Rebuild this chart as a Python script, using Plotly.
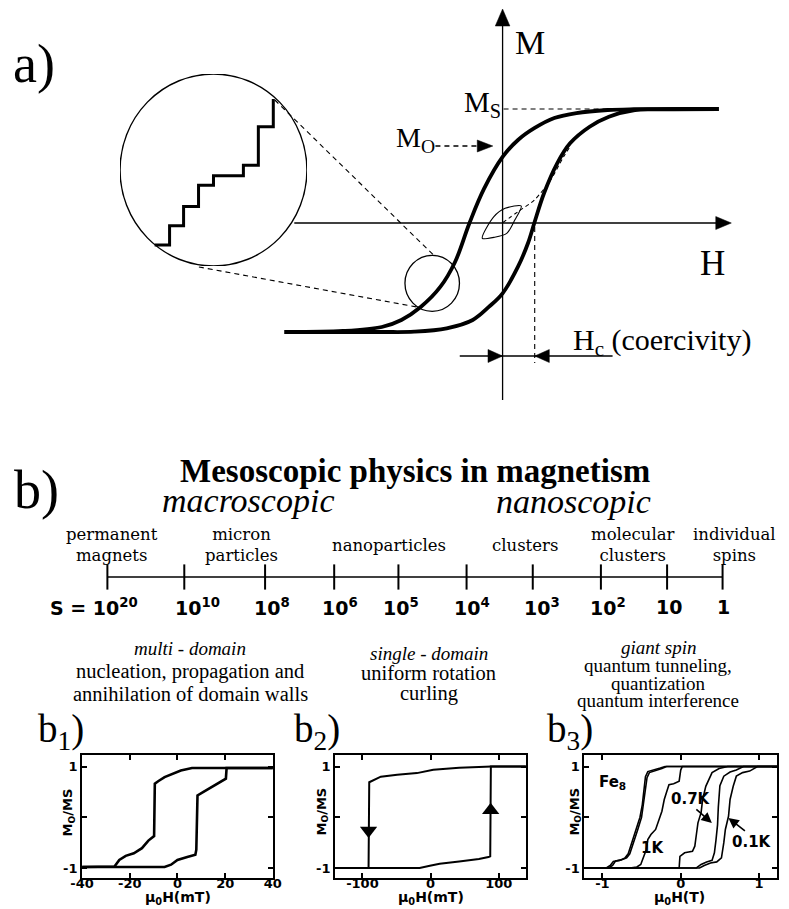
import plotly.graph_objects as go

FIG_W, FIG_H = 789, 909


def P(x, y):
    """page pixel position -> paper coordinates"""
    return x / FIG_W, 1 - y / FIG_H


def dom_x(left, right):
    return [left / FIG_W, right / FIG_W]


def dom_y(top, bottom):
    return [1 - bottom / FIG_H, 1 - top / FIG_H]


# ---------------- a) schematic loop: H in units of Hc, M in units of Ms ----------------
major_down_H = [6.73, 4.09, 3.27, 2.30, 1.61, 1.0, 0.48, 0.0, -0.58, -1.03, -1.48, -1.94,
                -2.55, -3.15, -3.76, -4.97, -6.79]
major_down_M = [1.0, 0.998, 0.991, 0.964, 0.919, 0.830, 0.722, 0.570, 0.283, -0.022, -0.372,
                -0.596, -0.776, -0.892, -0.955, -0.991, -1.0]
major_up_H = [-6.79, -3.76, -2.75, -1.74, -0.93, -0.42, 0.0, 0.48, 0.79, 0.99, 1.29, 1.70,
              2.10, 2.71, 3.31, 4.12, 4.83, 6.73]
major_up_M = [-1.0, -1.0, -0.997, -0.967, -0.892, -0.773, -0.653, -0.414, -0.204, -0.02,
              0.244, 0.513, 0.692, 0.841, 0.931, 0.991, 0.997, 1.0]
virgin_H = [0.0, 0.48, 0.99, 1.49, 1.90, 2.10]
virgin_M = [-0.02, 0.079, 0.184, 0.363, 0.572, 0.662]
minor_H = [-0.63, -0.27, 0.08, 0.58, 0.38, 0.13, -0.27, -0.63]
minor_M = [-0.16, 0.034, 0.109, 0.13, 0.004, -0.115, -0.151, -0.16]

# Barkhausen jumps seen under the magnifier (arbitrary units)
step_x = [-0.63, -0.47, -0.32, -0.16, 0.0, 0.32, 0.48, 0.64]
step_y = [-0.78, -0.58, -0.38, -0.16, -0.06, 0.05, 0.45, 0.74]

# ---------------- b) size scale ----------------
size_classes = ["permanent<br>magnets", "micron<br>particles", "nanoparticles", "clusters",
                "molecular<br>clusters", "individual<br>spins"]
spin_labels = ["S = 10<sup>20</sup>", "10<sup>10</sup>", "10<sup>8</sup>", "10<sup>6</sup>",
               "10<sup>5</sup>", "10<sup>4</sup>", "10<sup>3</sup>", "10<sup>2</sup>", "10", "1"]
regime_titles = ["multi - domain", "single - domain", "giant spin"]
regime_lines = [["nucleation, propagation and", "annihilation of domain walls"],
                ["uniform rotation", "curling"],
                ["quantum tunneling,", "quantization", "quantum interference"]]

# b1) multi-domain particle, mu0H in mT
b1_down_H = [40.0, 6.1, 1.4, -1.4, -5.4, -8.1, -9.5, -9.8, -12.2, -14.9, -18.3, -21.7, -24.4, -26.4, -40.0]
b1_down_M = [0.97, 0.97, 0.92, 0.86, 0.79, 0.71, 0.66, -0.37, -0.46, -0.61, -0.71, -0.76, -0.84, -0.97, -0.98]
b1_up_H = [-40.0, -5.4, -2.7, 0.0, 4.1, 7.5, 7.9, 8.4, 10.9, 14.9, 19.7, 20.3, 20.6, 40.0]
b1_up_M = [-0.98, -0.98, -0.935, -0.84, -0.785, -0.74, -0.64, 0.43, 0.50, 0.61, 0.74, 0.76, 0.97, 0.97]

# b2) single-domain particle, mu0H in mT
b2_down_H = [140, 90, 42, 4, -20, -49, -73, -85, -90, -91, -140]
b2_down_M = [1.0, 1.0, 0.974, 0.935, 0.87, 0.84, 0.80, 0.73, 0.69, -1.0, -1.0]
b2_up_H = [-140, -16, -1, 13.4, 42, 71, 85, 87.6, 88.5, 140]
b2_up_M = [-1.0, -1.0, -0.955, -0.915, -0.87, -0.824, -0.785, -0.77, 1.0, 1.0]
b2_arrow_H = [-91, 88.2]
b2_arrow_M = [-0.26, 0.14]

# b3) Fe8 molecular clusters, mu0H in T
fe8_1K_down_H = [1.23, 0.02, 0.0, -0.02, -0.09, -0.15, -0.18, -0.21, -0.24, -0.28, -0.32, -0.38,
                 -0.42, -0.44, -0.49, -0.51, -0.56, -0.65, -1.23]
fe8_1K_down_M = [1.0, 1.0, 0.93, 0.71, 0.66, 0.64, 0.50, 0.35, 0.12, -0.05, -0.24, -0.34,
                 -0.44, -0.64, -0.84, -0.93, -0.98, -1.0, -1.0]
fe8_1K_up_H = [-1.23, -0.02, -0.01, 0.05, 0.15, 0.18, 0.20, 0.22, 0.26, 0.28, 0.32, 0.40, 0.49, 0.60, 1.23]
fe8_1K_up_M = [-1.0, -1.0, -0.77, -0.70, -0.67, -0.57, -0.34, -0.11, 0.09, 0.35, 0.61, 0.88, 0.96, 1.0, 1.0]
fe8_07K_down_H = [1.23, -0.18, -0.24, -0.32, -0.40, -0.43, -0.45, -0.47, -0.50, -0.55, -0.61,
                  -0.65, -0.69, -0.76, -0.83, -0.87, -0.92, -1.23]
fe8_07K_down_M = [1.0, 1.0, 0.96, 0.92, 0.88, 0.78, 0.55, 0.25, 0.0, -0.25, -0.55, -0.72,
                  -0.80, -0.84, -0.86, -0.95, -1.0, -1.0]
fe8_07K_up_H = [-1.23, 0.20, 0.26, 0.33, 0.40, 0.43, 0.45, 0.47, 0.48, 0.50, 0.55, 0.63, 0.71, 0.80, 1.23]
fe8_07K_up_M = [-1.0, -1.0, -0.93, -0.88, -0.85, -0.70, -0.45, -0.15, 0.20, 0.62, 0.81, 0.89, 0.93, 1.0, 1.0]
fe8_01K_down_H = [1.23, -0.20, -0.26, -0.34, -0.42, -0.45, -0.47, -0.49, -0.52, -0.57, -0.63,
                  -0.67, -0.71, -0.78, -0.86, -0.90, -0.95, -1.23]
fe8_01K_down_M = [1.0, 1.0, 0.97, 0.94, 0.90, 0.80, 0.55, 0.25, 0.0, -0.25, -0.55, -0.72,
                  -0.80, -0.85, -0.87, -0.95, -1.0, -1.0]
fe8_01K_up_H = [-1.23, 0.24, 0.30, 0.38, 0.46, 0.52, 0.55, 0.57, 0.61, 0.63, 0.67, 0.71, 0.79, 0.88, 0.98, 1.23]
fe8_01K_up_M = [-1.0, -1.0, -0.95, -0.90, -0.88, -0.80, -0.50, -0.24, 0.02, 0.35, 0.61, 0.81, 0.88, 0.91, 1.0, 1.0]

# ---------------- styling ----------------
SERIF = "Liberation Serif"
WSERIF = "DejaVu Serif"
SANS = "DejaVu Sans"
INK = "black"

fig = go.Figure()


def line_trace(x, y, xa, ya, width, shape="linear", dash="solid", smoothing=None):
    ln = dict(color=INK, width=width, shape=shape, dash=dash)
    if smoothing is not None:
        ln["smoothing"] = smoothing
    fig.add_trace(go.Scatter(x=x, y=y, mode="lines", line=ln, xaxis=xa, yaxis=ya,
                             hoverinfo="skip", showlegend=False))


# a) loop
line_trace(major_down_H, major_down_M, "x", "y", 3.8, "spline", smoothing=1.0)
line_trace(major_up_H, major_up_M, "x", "y", 3.8, "spline", smoothing=1.0)
line_trace(virgin_H, virgin_M, "x", "y", 1.1, "spline", dash="4px,3px", smoothing=0.8)
line_trace(minor_H, minor_M, "x", "y", 1.1, "spline", smoothing=0.8)
# magnifier content
line_trace(step_x, step_y, "x2", "y2", 3, "hv")

# b1 / b2 / b3 loops
line_trace(b1_down_H, b1_down_M, "x4", "y4", 2.6)
line_trace(b1_up_H, b1_up_M, "x4", "y4", 2.6)
line_trace(b2_down_H, b2_down_M, "x5", "y5", 2)
line_trace(b2_up_H, b2_up_M, "x5", "y5", 2)
fig.add_trace(go.Scatter(x=b2_arrow_H, y=b2_arrow_M, mode="markers", xaxis="x5", yaxis="y5",
                         marker=dict(symbol=["triangle-down", "triangle-up"], size=15, color=INK),
                         hoverinfo="skip", showlegend=False))
for hx, my in [(fe8_1K_down_H, fe8_1K_down_M), (fe8_1K_up_H, fe8_1K_up_M),
               (fe8_07K_down_H, fe8_07K_down_M), (fe8_07K_up_H, fe8_07K_up_M),
               (fe8_01K_down_H, fe8_01K_down_M), (fe8_01K_up_H, fe8_01K_up_M)]:
    line_trace(hx, my, "x6", "y6", 1.6)

# size scale line with tick marks
scale_tick_x = [98, 177, 260, 331, 397, 467, 535, 605, 673, 730]
fig.add_trace(go.Scatter(x=[scale_tick_x[0], scale_tick_x[-1]], y=[577, 577], mode="lines",
                         line=dict(color=INK, width=1.3), xaxis="x3", yaxis="y3",
                         hoverinfo="skip", showlegend=False))
fig.add_trace(go.Scatter(x=scale_tick_x, y=[577] * len(scale_tick_x), mode="markers",
                         marker=dict(symbol="line-ns", size=18, line=dict(color=INK, width=2)),
                         xaxis="x3", yaxis="y3", hoverinfo="skip", showlegend=False))

# ---------------- shapes (axes arrows, magnifier, guides) ----------------
shapes = []


def seg(x0, y0, x1, y1, w=1.3, dash="solid"):
    a, b = P(x0, y0)
    c, d = P(x1, y1)
    shapes.append(dict(type="line", xref="paper", yref="paper", x0=a, y0=b, x1=c, y1=d,
                       line=dict(color=INK, width=w, dash=dash)))


def tri(p1, p2, p3):
    pts = [P(*p) for p in (p1, p2, p3)]
    path = "M {} {} L {} {} L {} {} Z".format(pts[0][0], pts[0][1], pts[1][0], pts[1][1],
                                              pts[2][0], pts[2][1])
    shapes.append(dict(type="path", xref="paper", yref="paper", path=path,
                       fillcolor=INK, line=dict(color=INK, width=0.5)))


# M and H axes
seg(504, 22, 504, 400)
tri((504, 9), (496.5, 26), (511.5, 26))
seg(290, 223, 726, 223)
tri((739, 223), (723, 216.5), (723, 229.5))
# saturation guide and remanence pointer
seg(505, 109, 640, 109, 1.1, "5px,4px")
seg(435, 146, 480, 146, 1.3, "5px,4px")
tri((494, 146), (478, 140), (478, 152))
# coercive field marker
seg(537, 227, 537, 363, 1.1, "5px,4px")
seg(460, 356, 617, 356, 1.3)
tri((504, 356), (489, 349.5), (489, 362.5))
tri((537, 356), (552, 349.5), (552, 362.5))
# magnifier: small circle on the loop, cone lines, big circle
a, b = P(403.7, 255.3)
c, d = P(459.7, 311.3)
shapes.append(dict(type="circle", xref="paper", yref="paper", x0=a, y0=d, x1=c, y1=b,
                   line=dict(color=INK, width=1.3)))
seg(270, 100, 433, 255, 1.1, "5px,4px")
seg(192, 267, 416, 307, 1.1, "5px,4px")
shapes.append(dict(type="circle", xref="x2", yref="y2", x0=-1, y0=-1, x1=1, y1=1,
                   line=dict(color=INK, width=1.4)))

# ---------------- annotations ----------------
annotations = []


def note(text, x, y, size, family=SERIF, xanchor="center", yanchor="middle", weight="normal",
         style="normal", angle=0):
    a, b = P(x, y)
    annotations.append(dict(text=text, x=a, y=b, xref="paper", yref="paper", showarrow=False,
                            xanchor=xanchor, yanchor=yanchor, textangle=angle,
                            font=dict(family=family, size=size, color=INK, weight=weight,
                                      style=style)))


# panel a
note("a)", 23, 64, 54)
note("M", 532, 42, 34)
note("M<sub>S</sub>", 462, 104, 29, xanchor="left")
note("M<sub>O</sub>", 392, 139, 28, xanchor="left")
note("H", 720, 264, 35)
note("H<sub>c</sub> (coercivity)", 574, 342, 30, xanchor="left")

# panel b header
note("b)", 25, 490, 54)
note("Mesoscopic physics in magnetism", 414, 471, 33, weight="bold")
note("macroscopic", 242, 500, 34, style="italic")
note("nanoscopic", 577, 501, 34, style="italic")

class_x = [103, 236, 387, 527, 638, 742]
for name, cx in zip(size_classes, class_x):
    note(name, cx, 545, 16.5, family=WSERIF)

spin_x = [84, 191, 267, 337, 400, 473, 545, 612, 675, 731]
for lab, sx in zip(spin_labels, spin_x):
    note(lab, sx, 607, 19, family=SANS, weight="bold")

regime_x = [183, 428, 664]
title_y = [648, 653, 647]
line_y = [[671, 694], [673, 693], [665, 683, 700]]
line_size = [20.5, 20.5, 19]
for i in range(3):
    note(regime_titles[i], regime_x[i], title_y[i], 19, style="italic")
    for txt, ly in zip(regime_lines[i], line_y[i]):
        note(txt, regime_x[i], ly, line_size[i])

for lab, lx in zip(["b<sub>1</sub>)", "b<sub>2</sub>)", "b<sub>3</sub>)"], [50, 313, 573]):
    note(lab, lx, 731, 39)

# small panel axis titles
for cx in [58, 318, 578]:
    note("M<sub>O</sub>/MS", cx, 812, 13, family=SANS, weight="bold", angle=-90)
for cx, unit in [(171, "mT"), (430, "mT"), (686, "T")]:
    note("μ<sub>0</sub>H(" + unit + ")", cx, 898, 14, family=SANS, weight="bold")

# b3 labels
note("Fe<sub>8</sub>", 617, 782, 15, family=SANS, weight="bold")
note("0.7K", 698, 799, 15, family=SANS, weight="bold")
note("1K", 658, 848, 15, family=SANS, weight="bold")
note("0.1K", 760, 842, 15, family=SANS, weight="bold")
for tip, tail in [((719, 823), (702, 808)), ((736, 818), (754, 832))]:
    a, b = P(*tip)
    annotations.append(dict(text="", x=a, y=b, xref="paper", yref="paper", showarrow=True,
                            ax=tail[0] - tip[0], ay=tail[1] - tip[1], arrowhead=2,
                            arrowsize=1.3, arrowwidth=1.6, arrowcolor=INK))

# ---------------- axes ----------------
hidden = dict(visible=False, showgrid=False, zeroline=False, fixedrange=True)


def frame_axis(rng, tickvals, ticktext, dom, anchor, standoff=0):
    return dict(range=rng, domain=dom, anchor=anchor, showline=True, linewidth=2, linecolor=INK,
                mirror="ticks", ticks="inside", ticklen=5, tickwidth=1.5, tickcolor=INK,
                tickvals=tickvals, ticktext=ticktext, showgrid=False, zeroline=False,
                ticklabelstandoff=standoff,
                tickfont=dict(family=SANS, size=13, color=INK, weight="bold"), fixedrange=True)


m_ticks = [-1, 0, 1]
m_text = ["-1", "", "1"]
b_ydom = dom_y(755, 878)
b_yrange = [-1.197, 1.227]

fig.update_layout(
    width=FIG_W, height=FIG_H, margin=dict(l=0, r=0, t=0, b=0),
    paper_bgcolor="white", plot_bgcolor="rgba(0,0,0,0)", showlegend=False,
    xaxis=dict(hidden, domain=[0, 1], range=[-504 / 33, 285 / 33], anchor="y"),
    yaxis=dict(hidden, domain=dom_y(0, 420), range=[(220.5 - 420) / 111.5, 220.5 / 111.5], anchor="x"),
    xaxis2=dict(hidden, domain=dom_x(111, 303), range=[-1, 1], anchor="y2"),
    yaxis2=dict(hidden, domain=dom_y(74, 266), range=[-1, 1], anchor="x2"),
    xaxis3=dict(hidden, domain=[0, 1], range=[0, FIG_W], anchor="y3"),
    yaxis3=dict(hidden, domain=dom_y(555, 600), range=[600, 555], anchor="x3"),
    xaxis4=frame_axis([-40, 40], [-40, -20, 0, 20, 40], ["-40", "-20", "0", "20", "40"],
                      dom_x(72, 268), "y4", -8),
    yaxis4=frame_axis(b_yrange, m_ticks, m_text, b_ydom, "x4"),
    xaxis5=frame_axis([-140, 140], [-100, 0, 100], ["-100", "0", "100"], dom_x(332, 528), "y5", -8),
    yaxis5=frame_axis(b_yrange, m_ticks, m_text, b_ydom, "x5"),
    xaxis6=frame_axis([-1.23, 1.23], [-1, 0, 1], ["-1", "0", "1"], dom_x(588, 786), "y6", -8),
    yaxis6=frame_axis(b_yrange, m_ticks, m_text, b_ydom, "x6"),
    shapes=shapes,
    annotations=annotations,
)

fig.write_html("out.html")
